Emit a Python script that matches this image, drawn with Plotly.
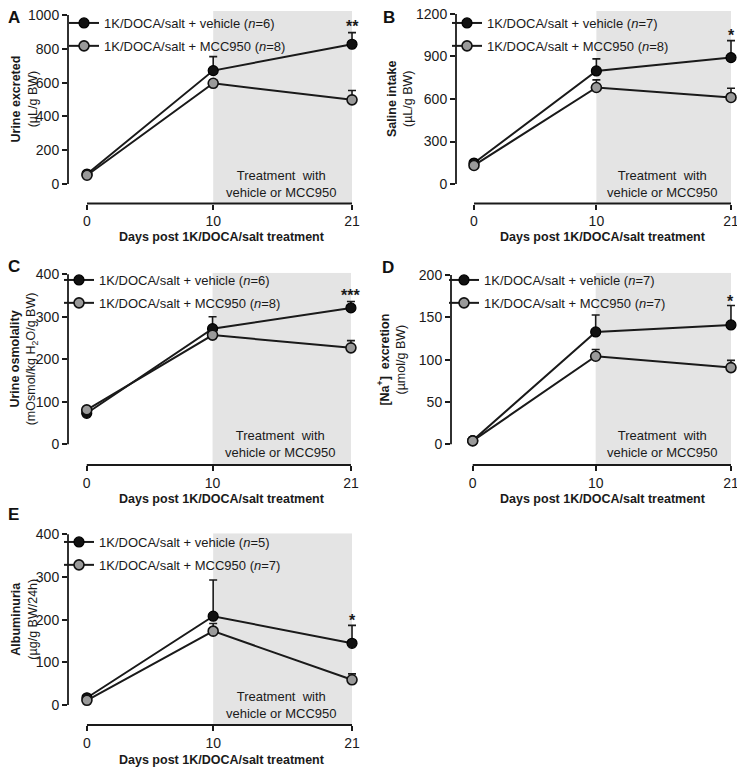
import plotly.graph_objects as go

# the page places the figure 8px in from the window's top-left corner
OX, OY = 8, 8
W, H = 745 - OX, 767 - OY
FONT = "Arial, Liberation Sans, Helvetica, sans-serif"

days = [0, 10, 21]
day_ticks = [0, 10, 21]

# ---- Panel A: Urine excreted ----
a_vehicle = [59, 671, 827]
a_vehicle_err = [8, 83, 69]
a_mcc = [52, 596, 498]
a_mcc_err = [6, 20, 55]
a_n = ("6", "8")
a_yticks = [0, 200, 400, 600, 800, 1000]
a_sig = "**"
a_sig_y = 941

# ---- Panel B: Saline intake ----
b_vehicle = [148, 798, 892]
b_vehicle_err = [10, 85, 120]
b_mcc = [131, 681, 611]
b_mcc_err = [10, 54, 65]
b_n = ("7", "8")
b_yticks = [0, 300, 600, 900, 1200]
b_sig = "*"
b_sig_y = 1064

# ---- Panel C: Urine osmolality ----
c_vehicle = [73, 272, 321]
c_vehicle_err = [4, 28, 15]
c_mcc = [81, 257, 227]
c_mcc_err = [4, 8, 17]
c_n = ("6", "8")
c_yticks = [0, 100, 200, 300, 400]
c_sig = "***"
c_sig_y = 355

# ---- Panel D: Na+ excretion ----
d_vehicle = [4.3, 132.7, 141]
d_vehicle_err = [1, 20, 23]
d_mcc = [4, 104, 90.6]
d_mcc_err = [1, 8, 8.5]
d_n = ("7", "7")
d_yticks = [0, 50, 100, 150, 200]
d_sig = "*"
d_sig_y = 171

# ---- Panel E: Albuminuria ----
e_vehicle = [17, 208, 144.5]
e_vehicle_err = [3, 85, 42]
e_mcc = [11, 173, 59]
e_mcc_err = [3, 18, 14]
e_n = ("5", "7")
e_yticks = [0, 100, 200, 300, 400]
e_sig = "*"
e_sig_y = 203

# layout geometry in window pixels
panels = [
    dict(letter="A", veh=a_vehicle, veh_err=a_vehicle_err, mcc=a_mcc, mcc_err=a_mcc_err, n=a_n,
         yticks=a_yticks, sig=a_sig, sig_y=a_sig_y,
         ytitle="<b>Urine excreted</b><br>(µL/g BW)",
         px=(68, 363), py=(11, 203.5), xr=(-1.506, 21.87), yr=(-115.4, 1023.7),
         ytitle_x=24, xtitle_pos=(222, 237), letter_pos=(14, 17), leg=(64, 4)),
    dict(letter="B", veh=b_vehicle, veh_err=b_vehicle_err, mcc=b_mcc, mcc_err=b_mcc_err, n=b_n,
         yticks=b_yticks, sig=b_sig, sig_y=b_sig_y,
         ytitle="<b>Saline intake</b><br>(µL/g BW)",
         px=(456, 737), py=(11, 203.5), xr=(-1.471, 21.49), yr=(-137.6, 1221),
         ytitle_x=400, xtitle_pos=(603, 237), letter_pos=(389, 17), leg=(447, 4)),
    dict(letter="C", veh=c_vehicle, veh_err=c_vehicle_err, mcc=c_mcc, mcc_err=c_mcc_err, n=c_n,
         yticks=c_yticks, sig=c_sig, sig_y=c_sig_y,
         ytitle="<b>Urine osmolality</b><br>(mOsmol/kg H<sub>2</sub>O/g BW)",
         px=(68, 361), py=(272.7, 465), xr=(-1.49, 21.8), yr=(-48.7, 403.8),
         ytitle_x=24, xtitle_pos=(222, 499), letter_pos=(14, 266), leg=(59, 265)),
    dict(letter="D", veh=d_vehicle, veh_err=d_vehicle_err, mcc=d_mcc, mcc_err=d_mcc_err, n=d_n,
         yticks=d_yticks, sig=d_sig, sig_y=d_sig_y,
         ytitle="<b>[Na<sup>+</sup>]&nbsp; excretion</b><br>(µmol/g BW)",
         px=(451, 737), py=(272.7, 465), xr=(-1.764, 21.49), yr=(-24.5, 202.7),
         ytitle_x=392, xtitle_pos=(603, 499), letter_pos=(388, 267), leg=(444, 265)),
    dict(letter="E", veh=e_vehicle, veh_err=e_vehicle_err, mcc=e_mcc, mcc_err=e_mcc_err, n=e_n,
         yticks=e_yticks, sig=e_sig, sig_y=e_sig_y,
         ytitle="<b>Albuminuria</b><br>(µg/g BW/24h)",
         px=(68, 363), py=(533.3, 725), xr=(-1.5, 21.87), yr=(-46.9, 402.3),
         ytitle_x=24, xtitle_pos=(222, 760), letter_pos=(14, 514), leg=(59, 527)),
]

def sx(pix):
    return (pix - OX) / W

def sy(pix):
    return 1 - (pix - OY) / H

fig = go.Figure()
layout = dict(
    width=W, height=H, margin=dict(l=0, r=0, t=0, b=0, autoexpand=False),
    paper_bgcolor="white", plot_bgcolor="rgba(0,0,0,0)",
    font=dict(family=FONT, color="#1a1a1a"), showlegend=True,
)
shapes, annotations = [], []

def data_px_x(p, v):
    x0, x1 = p["xr"]
    l, r = p["px"]
    return l + (v - x0) / (x1 - x0) * (r - l)

def data_px_y(p, v):
    y0, y1 = p["yr"]
    t, b = p["py"]
    return b - (v - y0) / (y1 - y0) * (b - t)

LINE_C = "#1a1a1a"
for i, p in enumerate(panels):
    k = "" if i == 0 else str(i + 1)
    xa, ya = "x" + k, "y" + k
    leg = "legend" + k
    dom_x = [sx(p["px"][0]), sx(p["px"][1])]
    dom_y = [sy(p["py"][1]), sy(p["py"][0])]
    layout["xaxis" + k] = dict(
        domain=dom_x, range=list(p["xr"]), anchor=ya, tickvals=day_ticks,
        ticks="outside", ticklen=5, tickwidth=1.6, tickcolor=LINE_C,
        showline=False, showgrid=False, zeroline=False, automargin=False,
        ticklabeloverflow="allow",
        tickfont=dict(size=14, family=FONT, color="#1a1a1a"),
    )
    layout["yaxis" + k] = dict(
        domain=dom_y, range=list(p["yr"]), anchor=xa, tickvals=p["yticks"],
        ticks="outside", ticklen=5, tickwidth=1.6, tickcolor=LINE_C,
        showline=False, showgrid=False, zeroline=False, automargin=False,
        ticklabeloverflow="allow",
        tickfont=dict(size=14, family=FONT, color="#1a1a1a"),
    )
    # treatment shading
    shapes.append(dict(type="rect", xref=xa, yref=ya, x0=10, x1=21,
                       y0=p["yr"][0], y1=p["yr"][1], fillcolor="#e4e4e4",
                       line=dict(width=0), layer="below"))
    # axis lines (only across the tick span)
    ylx = sx(data_px_x(p, p["xr"][0]))
    shapes.append(dict(type="line", xref="paper", yref="paper",
                       x0=ylx, x1=ylx,
                       y0=sy(data_px_y(p, p["yticks"][0])),
                       y1=sy(data_px_y(p, p["yticks"][-1])),
                       line=dict(color=LINE_C, width=1.8)))
    xly = sy(data_px_y(p, p["yr"][0]))
    shapes.append(dict(type="line", xref="paper", yref="paper",
                       x0=sx(data_px_x(p, day_ticks[0])),
                       x1=sx(data_px_x(p, day_ticks[-1])),
                       y0=xly, y1=xly,
                       line=dict(color=LINE_C, width=1.8)))
    # traces
    fig.add_trace(go.Scatter(
        x=days, y=p["veh"], xaxis=xa, yaxis=ya, mode="lines+markers",
        name="1K/DOCA/salt + vehicle (<i>n</i>=%s)" % p["n"][0],
        legend=leg, legendgroup="v" + k,
        line=dict(color=LINE_C, width=2),
        marker=dict(size=10, color="#111111", line=dict(color="#000000", width=1.2)),
        error_y=dict(type="data", symmetric=False, array=p["veh_err"],
                     arrayminus=[0, 0, 0], color=LINE_C, thickness=1.6, width=4),
    ))
    fig.add_trace(go.Scatter(
        x=days, y=p["mcc"], xaxis=xa, yaxis=ya, mode="lines+markers",
        name="1K/DOCA/salt + MCC950 (<i>n</i>=%s)" % p["n"][1],
        legend=leg, legendgroup="m" + k,
        line=dict(color=LINE_C, width=2),
        marker=dict(size=10, color="#9a9a9a", line=dict(color="#111111", width=1.6)),
        error_y=dict(type="data", symmetric=False, array=p["mcc_err"],
                     arrayminus=[0, 0, 0], color=LINE_C, thickness=1.6, width=4),
    ))
    layout[leg] = dict(
        x=sx(p["leg"][0]), y=sy(p["leg"][1]), xref="container", yref="container",
        xanchor="left", yanchor="top",
        bgcolor="rgba(0,0,0,0)", borderwidth=0, traceorder="grouped",
        tracegroupgap=3, font=dict(size=13, family=FONT, color="#1a1a1a"),
        itemwidth=30,
    )
    # treatment text
    annotations.append(dict(
        xref=xa, yref=ya, x=15.4, y=0, xanchor="center", yanchor="middle",
        text="Treatment&nbsp; with<br>vehicle or MCC950", showarrow=False,
        font=dict(size=13, family=FONT, color="#1a1a1a"),
    ))
    # significance
    annotations.append(dict(
        xref=xa, yref=ya, x=21, y=p["sig_y"], yshift=-2, xanchor="center", yanchor="middle",
        text="<b>%s</b>" % p["sig"], showarrow=False,
        font=dict(size=16, family=FONT, color="#1a1a1a"),
    ))
    # y title
    ymid_px = (data_px_y(p, p["yticks"][0]) + data_px_y(p, p["yticks"][-1])) / 2
    annotations.append(dict(
        xref="paper", yref="paper", x=sx(p["ytitle_x"]), y=sy(ymid_px),
        xanchor="center", yanchor="middle", textangle=-90,
        text=p["ytitle"], showarrow=False,
        font=dict(size=12.5, family=FONT, color="#1a1a1a"),
    ))
    # x title
    annotations.append(dict(
        xref="paper", yref="paper", x=sx(p["xtitle_pos"][0]), y=sy(p["xtitle_pos"][1]),
        xanchor="center", yanchor="middle",
        text="<b>Days post 1K/DOCA/salt treatment</b>", showarrow=False,
        font=dict(size=12.5, family=FONT, color="#1a1a1a"),
    ))
    # panel letter
    annotations.append(dict(
        xref="paper", yref="paper", x=sx(p["letter_pos"][0]), y=sy(p["letter_pos"][1]),
        xanchor="center", yanchor="middle",
        text="<b>%s</b>" % p["letter"], showarrow=False,
        font=dict(size=17, family=FONT, color="#111111"),
    ))

layout["shapes"] = shapes
layout["annotations"] = annotations
fig.update_layout(**layout)
fig.write_html("out.html")
